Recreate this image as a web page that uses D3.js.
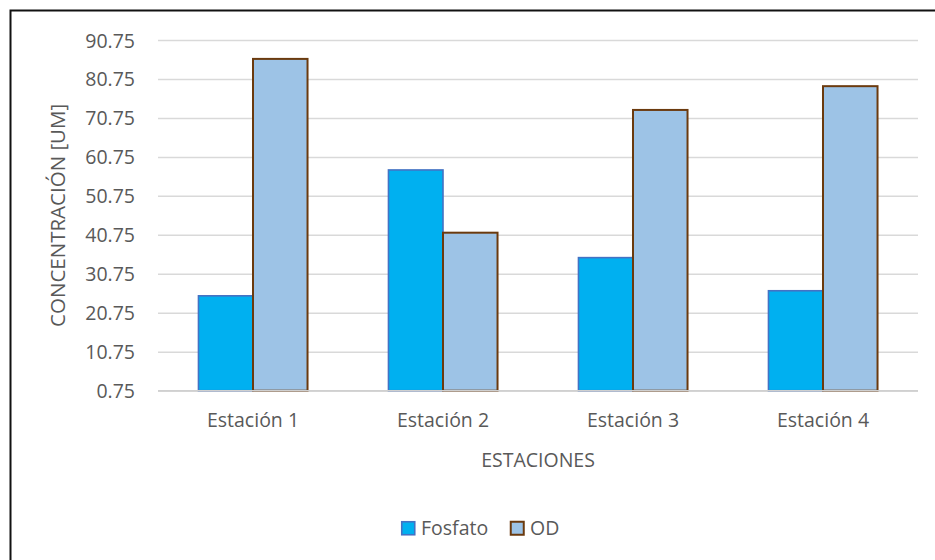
<!DOCTYPE html>
<html>
<head>
<meta charset="utf-8">
<script src="https://cdn.jsdelivr.net/npm/d3@7/dist/d3.min.js"></script>
<style>
  html, body { margin: 0; padding: 0; background: #fff; }
  svg { display: block; }
  text { font-family: "Open Sans", "Noto Sans", sans-serif; fill: #595959; }
</style>
</head>
<body>
<svg id="chart" width="935" height="560"></svg>
<script>
const categories = ["Estación 1", "Estación 2", "Estación 3", "Estación 4"];
const seriesNames = ["Fosfato", "OD"];
const fosfato = [25.1, 57.4, 34.9, 26.4];
const od = [85.9, 41.3, 72.8, 78.9];
const tickValues = [0.75, 10.75, 20.75, 30.75, 40.75, 50.75, 60.75, 70.75, 80.75, 90.75];
const tickLabels = ["0.75", "10.75", "20.75", "30.75", "40.75", "50.75", "60.75", "70.75", "80.75", "90.75"];
const yTitle = "CONCENTRACIÓN [UM]";
const xTitle = "ESTACIONES";

const fills = { "Fosfato": "#00B0F0", "OD": "#9DC3E6" };
const strokes = { "Fosfato": "#4472C4", "OD": "#6B3A0E" };

const svg = d3.select("#chart");
const W = 935, H = 560;
const plot = { left: 158, right: 918, top: 40, bottom: 390.7 };

// outer border (only top and left visible in reference)
svg.append("rect")
  .attr("x", 10.5).attr("y", 10.5)
  .attr("width", W + 20).attr("height", H + 20)
  .attr("fill", "none").attr("stroke", "#111").attr("stroke-width", 2);

const y = d3.scaleLinear().domain([0.75, 90.75]).range([plot.bottom, plot.top]);
const x0 = d3.scaleBand().domain(categories).range([plot.left, plot.right])
  .paddingInner(0.426).paddingOuter(0.213);
const x1 = d3.scaleBand().domain(seriesNames).range([0, x0.bandwidth()]).padding(0);

// gridlines via axis
const yAxis = d3.axisLeft(y)
  .tickValues(tickValues)
  .tickFormat((d, i) => tickLabels[i])
  .tickSize(-(plot.right - plot.left))
  .tickPadding(23);

const gy = svg.append("g").attr("transform", `translate(${plot.left},0)`).call(yAxis);
gy.select(".domain").remove();
gy.selectAll(".tick line").attr("stroke", "#D9D9D9").attr("stroke-width", 1.5);
gy.selectAll(".tick text")
  .style("font-size", "19.5px").attr("fill", "#595959").attr("dy", "0.36em");

// bars
const data = categories.map((c, i) => ({ cat: c, values: [
  { key: "Fosfato", value: fosfato[i] },
  { key: "OD", value: od[i] }
]}));

const groups = svg.append("g").selectAll("g").data(data).join("g")
  .attr("transform", d => `translate(${x0(d.cat)},0)`);

groups.selectAll("rect").data(d => d.values).join("rect")
  .attr("x", d => x1(d.key))
  .attr("y", d => y(d.value))
  .attr("width", x1.bandwidth())
  .attr("height", d => y(0.75) - y(d.value))
  .attr("fill", d => fills[d.key])
  .attr("stroke", d => strokes[d.key])
  .attr("stroke-width", d => d.key === "OD" ? 2 : 1.6);

// bottom axis line
svg.append("line")
  .attr("x1", plot.left).attr("x2", plot.right)
  .attr("y1", y(0.75)).attr("y2", y(0.75))
  .attr("stroke", "#D0D0D0").attr("stroke-width", 1.5);

// category labels
const xAxis = d3.axisBottom(x0).tickSize(0).tickPadding(22);
const gx = svg.append("g").attr("transform", `translate(0,${plot.bottom})`).call(xAxis);
gx.select(".domain").remove();
gx.selectAll(".tick text").style("font-size", "19.5px").attr("fill", "#595959");

// axis titles
svg.append("text")
  .attr("x", (plot.left + plot.right) / 2).attr("y", 467)
  .attr("text-anchor", "middle").style("font-size", "19.5px")
  .text(xTitle);

svg.append("text")
  .attr("transform", `translate(65,${(plot.top + plot.bottom) / 2}) rotate(-90)`)
  .attr("text-anchor", "middle").style("font-size", "20.5px")
  .text(yTitle);

// legend
const legendItems = [
  { key: "Fosfato", x: 401 },
  { key: "OD", x: 510 }
];
const lg = svg.append("g").selectAll("g").data(legendItems).join("g")
  .attr("transform", d => `translate(${d.x},521)`);
lg.append("rect")
  .attr("x", 0.75).attr("y", 0.75).attr("width", 13).attr("height", 13)
  .attr("fill", d => fills[d.key]).attr("stroke", d => strokes[d.key])
  .attr("stroke-width", d => d.key === "OD" ? 2 : 1.6);
lg.append("text")
  .attr("x", 20).attr("y", 14).style("font-size", "19.5px")
  .text(d => d.key);
</script>
</body>
</html>
